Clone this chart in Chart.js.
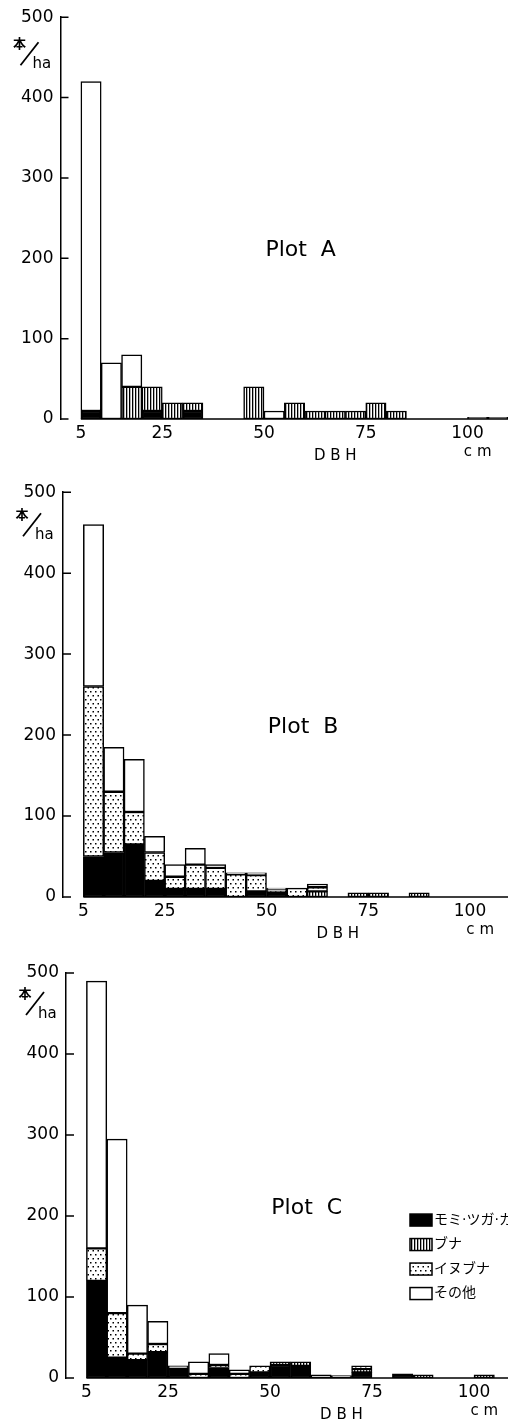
<!DOCTYPE html>
<html>
<head>
<meta charset="utf-8">
<script src="https://cdn.jsdelivr.net/npm/chart.js@4"></script>
<style>
  body { margin: 0; background: #fff; width: 508px; height: 1420px; overflow: hidden; position: relative; }
  canvas { position: absolute; left: 0; }
</style>
</head>
<body>
<canvas id="plotA" width="520" height="475" style="top:0px"></canvas>
<canvas id="plotB" width="520" height="475" style="top:475px"></canvas>
<canvas id="plotC" width="520" height="470" style="top:950px"></canvas>
<script>
// DBH classes, lower bound of each 5 cm class
const dbhClasses = [5, 10, 15, 20, 25, 30, 35, 40, 45, 50, 55, 60, 65, 70, 75, 80, 85, 90, 95, 100, 105];
const xTicks = [5, 25, 50, 75, 100];
const yTicks = [0, 100, 200, 300, 400, 500];
const species = ['モミ·ツガ·カヤ', 'ブナ', 'イヌブナ', 'その他'];

// Plot A (本/ha)
const aMomi  = [10, 0, 0, 10, 0, 10, 0, 0, 0, 0, 0, 0, 0, 0, 0, 0, 0, 0, 0, 0, 0];
const aBuna  = [0, 0, 40, 30, 20, 10, 0, 0, 40, 0, 20, 10, 10, 10, 20, 10, 0, 0, 0, 0, 0];
const aInu   = [0, 0, 0, 0, 0, 0, 0, 0, 0, 0, 0, 0, 0, 0, 0, 0, 0, 0, 0, 0, 0];
const aOther = [410, 70, 40, 0, 0, 0, 0, 0, 0, 10, 0, 0, 0, 0, 0, 0, 0, 0, 0, 2, 2];

// Plot B
const bMomi  = [50, 55, 65, 20, 10, 10, 10, 0, 7, 6, 0, 0, 0, 0, 0, 0, 0, 0, 0, 0, 0];
const bBuna  = [0, 0, 0, 0, 0, 0, 0, 0, 0, 0, 0, 7, 0, 5, 5, 0, 5, 0, 0, 0, 0];
const bInu   = [210, 75, 40, 35, 15, 30, 26, 28, 20, 3, 11, 5, 0, 0, 0, 0, 0, 0, 0, 0, 0];
const bOther = [200, 55, 65, 20, 15, 20, 4, 2, 3, 2, 0, 4, 0, 0, 0, 0, 0, 0, 0, 0, 0];

// Plot C
const cMomi  = [120, 25, 22, 32, 12, 0, 13, 0, 7, 16, 15, 0, 0, 7, 0, 5, 0, 0, 0, 0, 0];
const cBuna  = [0, 0, 0, 0, 0, 0, 0, 0, 0, 4, 5, 0, 0, 4, 0, 0, 4, 0, 0, 4, 0];
const cInu   = [40, 55, 8, 10, 0, 5, 3, 5, 8, 0, 0, 4, 0, 4, 0, 0, 0, 0, 0, 0, 0];
const cOther = [330, 215, 60, 28, 3, 15, 14, 5, 0, 0, 0, 0, 3, 0, 0, 0, 0, 0, 0, 0, 0];

const FONT = '"DejaVu Sans", sans-serif';

function makePattern(w, h, draw) {
  const c = document.createElement('canvas');
  c.width = w; c.height = h;
  const g = c.getContext('2d');
  g.fillStyle = '#fff';
  g.fillRect(0, 0, w, h);
  g.fillStyle = '#000';
  draw(g);
  return c.getContext('2d').createPattern(c, 'repeat');
}
const stripes = makePattern(3, 3, g => g.fillRect(0, 0, 1.3, 3));
const dots = makePattern(5, 8, g => { g.fillRect(0, 0, 1.5, 1.5); g.fillRect(2.5, 4, 1.5, 1.5); });
const fills = ['#000', stripes, dots, '#fff'];

const decor = {
  id: 'decor',
  afterDraw(chart, args, opts) {
    const { ctx } = chart;
    const x = chart.scales.x, y = chart.scales.y;
    const y0 = y.getPixelForValue(0);
    ctx.save();
    ctx.strokeStyle = '#000';
    ctx.lineWidth = 1.5;
    ctx.beginPath();
    ctx.moveTo(x.getPixelForValue(dbhClasses[0]), y0);
    ctx.lineTo(x.right, y0);
    yTicks.forEach(v => {
      const py = y.getPixelForValue(v);
      ctx.moveTo(y.right, py);
      ctx.lineTo(y.right + 8, py);
    });
    ctx.stroke();

    ctx.fillStyle = '#000';
    ctx.textAlign = 'center';
    ctx.textBaseline = 'middle';
    ctx.font = '22px ' + FONT;
    ctx.fillText(opts.title, x.getPixelForValue(59), y.getPixelForValue(210));
    ctx.font = '15px ' + FONT;
    ctx.fillText('D B H', x.getPixelForValue(67.5), y0 + 37);
    ctx.fillText('c m', x.getPixelForValue(102.5), y0 + 33);

    // unit label 本/ha
    const top = y.getPixelForValue(500), ax = y.right;
    ctx.font = 'bold 13px "Noto Sans CJK JP"';
    ctx.fillText('本', ax - 41, top + 26 + opts.dy);
    ctx.beginPath();
    ctx.lineWidth = 1.8;
    ctx.moveTo(ax - 40, top + 48 + opts.dy);
    ctx.lineTo(ax - 22, top + 25 + opts.dy);
    ctx.stroke();
    ctx.font = '15px ' + FONT;
    ctx.textAlign = 'left';
    ctx.textBaseline = 'alphabetic';
    ctx.fillText('ha', ax - 28, top + 51 + opts.dy);

    if (opts.legend) {
      ctx.font = '14px "DejaVu Sans", "Noto Sans CJK JP"';
      ctx.textBaseline = 'middle';
      chart.data.datasets.forEach((ds, i) => {
        const cy = y.getPixelForValue(opts.legendY) + i * 24.5;
        ctx.fillStyle = ds.backgroundColor;
        ctx.fillRect(410, cy - 6, 22, 12);
        ctx.lineWidth = 1.5;
        ctx.strokeRect(410, cy - 6, 22, 12);
        ctx.fillStyle = '#000';
        ctx.fillText(ds.label, 434, cy);
      });
    }
    ctx.restore();
  }
};

function makeChart(id, title, series, box) {
  const datasets = series.map((vals, i) => ({
    label: species[i],
    data: dbhClasses.map((c, j) => ({ x: c + 2.5, y: vals[j] ? vals[j] : null })),
    backgroundColor: fills[i],
    borderColor: '#000',
    borderWidth: 1.5,
    borderSkipped: false,
    barPercentage: 1,
    categoryPercentage: 1
  }));
  const canvas = document.getElementById(id);
  const H = canvas.height;
  const right = canvas.width - box.left - 110 * box.ppu;
  return new Chart(canvas, {
    type: 'bar',
    data: { datasets },
    options: {
      responsive: false,
      animation: false,
      devicePixelRatio: 1,
      layout: { padding: { top: box.top, left: 0, right: right, bottom: 0 } },
      scales: {
        x: {
          type: 'linear', min: 0, max: 110, stacked: true, offset: false,
          grid: { display: false, drawTicks: false }, border: { display: false },
          afterBuildTicks: s => { s.ticks = xTicks.map(v => ({ value: v })); },
          afterFit: s => { s.height = H - box.bottom; },
          ticks: { color: '#000', font: { family: FONT, size: 17 }, padding: 4, maxRotation: 0, autoSkip: false, callback: v => String(v) }
        },
        y: {
          min: 0, max: 500, stacked: true,
          grid: { display: false, drawTicks: false },
          border: { display: true, color: '#000', width: 1.5 },
          afterFit: s => { s.width = box.left; },
          ticks: { stepSize: 100, color: '#000', font: { family: FONT, size: 17 }, padding: 7 }
        }
      },
      plugins: {
        legend: { display: false },
        tooltip: { enabled: false },
        decor: { title: title, dy: box.dy, legend: box.legend, legendY: 195 }
      }
    },
    plugins: [decor]
  });
}

makeChart('plotA', 'Plot  A', [aMomi, aBuna, aInu, aOther], { left: 60.5, top: 14, bottom: 419, ppu: 4.07, dy: 0 });
makeChart('plotB', 'Plot  B', [bMomi, bBuna, bInu, bOther], { left: 63, top: 17, bottom: 422, ppu: 4.07, dy: -4 });
makeChart('plotC', 'Plot  C', [cMomi, cBuna, cInu, cOther], { left: 66, top: 23, bottom: 428, ppu: 4.08, dy: -6, legend: true });
</script>
</body>
</html>
